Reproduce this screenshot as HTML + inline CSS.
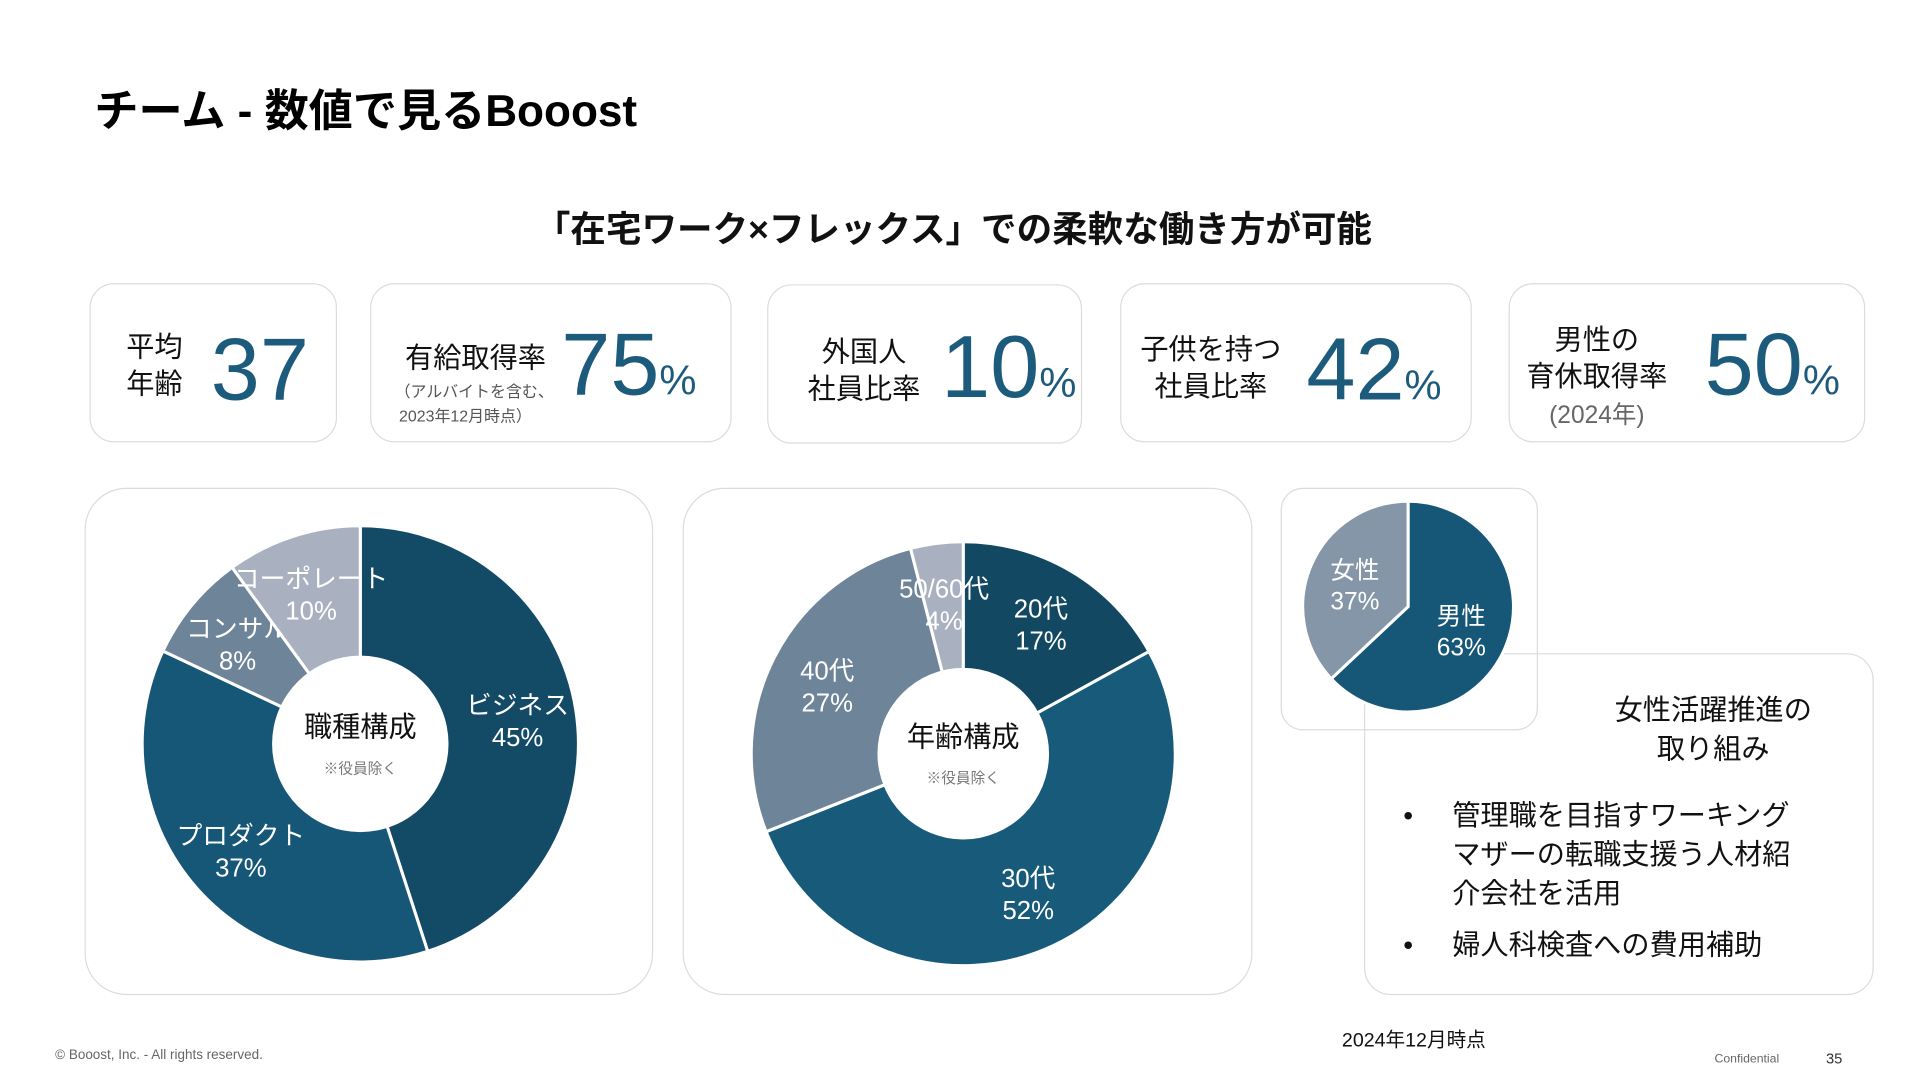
<!DOCTYPE html>
<html><head><meta charset="utf-8">
<style>
html,body{margin:0;padding:0;background:#fff;}
body{width:1920px;height:1080px;overflow:hidden;font-family:"Liberation Sans","Noto Sans CJK JP",sans-serif;}
#stage{position:absolute;left:0;top:0;width:1560px;height:878px;transform:scale(1.2255);transform-origin:0 0;}
.abs{position:absolute;}
.card{position:absolute;border:1.5px solid #dcdcdc;border-radius:20px;background:#fff;box-sizing:border-box;}
.lbl{position:absolute;font-size:23px;line-height:30px;color:#111;text-align:center;}
.num{position:absolute;color:#1d5b7c;font-size:72px;line-height:72px;font-family:"Liberation Sans",sans-serif;}
.num small{font-size:34px;}
</style></head><body>
<div id="stage">
<div class="abs" style="left:77px;top:62px;font-size:36px;font-weight:bold;color:#000;">チーム - 数値で見るBooost</div>
<div class="abs" style="left:0;width:1556px;top:164px;text-align:center;font-size:29px;font-weight:bold;color:#111;">「在宅ワーク×フレックス」での柔軟な働き方が可能</div>

<div class="card" style="left:73px;top:231px;width:202px;height:130px;"></div>
<div class="lbl" style="left:96px;top:268px;width:60px;">平均<br>年齢</div>
<div class="num" style="left:172px;top:266px;">37</div>

<div class="card" style="left:302px;top:231px;width:295px;height:130px;"></div>
<div class="lbl" style="left:320px;top:277px;width:136px;">有給取得率</div>
<div class="abs" style="left:322px;top:310px;font-size:13px;line-height:20px;color:#555;">（アルバイトを含む、<br>&nbsp;2023年12月時点）</div>
<div class="num" style="left:458px;top:262px;">75<small>%</small></div>

<div class="card" style="left:626px;top:232px;width:257px;height:130px;"></div>
<div class="lbl" style="left:645px;top:272px;width:120px;">外国人<br>社員比率</div>
<div class="num" style="left:768px;top:264px;">10<small>%</small></div>

<div class="card" style="left:914px;top:231px;width:287px;height:130px;"></div>
<div class="lbl" style="left:918px;top:270px;width:140px;">子供を持つ<br>社員比率</div>
<div class="num" style="left:1066px;top:266px;">42<small>%</small></div>

<div class="card" style="left:1231px;top:231px;width:291px;height:130px;"></div>
<div class="lbl" style="left:1233px;top:262px;width:140px;">男性の<br>育休取得率<br><span style="color:#666;font-size:20px;">(2024年)</span></div>
<div class="num" style="left:1391px;top:262px;">50<small>%</small></div>

<div class="card" style="left:69px;top:398px;width:464px;height:414px;border-radius:34px;"></div>
<div class="card" style="left:557px;top:398px;width:465px;height:414px;border-radius:34px;"></div>
<div class="card" style="left:1045px;top:398px;width:210px;height:198px;border-radius:18px;"></div>
<div class="card" style="left:1113px;top:533px;width:416px;height:279px;border-radius:22px;background:transparent;"></div>

<svg id="charts" class="abs" style="left:0;top:0" width="1560" height="878"></svg>

<div class="abs" style="left:1290px;width:216px;top:563px;text-align:center;font-size:23px;line-height:32px;color:#111;">女性活躍推進の<br>取り組み</div>
<div class="abs" style="left:1145px;top:649px;font-size:23px;line-height:32px;color:#111;">
<div style="position:relative;padding-left:40px;"><span style="position:absolute;left:0;">•</span>管理職を目指すワーキング<br>マザーの転職支援う人材紹<br>介会社を活用</div>
<div style="position:relative;padding-left:40px;margin-top:10px;"><span style="position:absolute;left:0;">•</span>婦人科検査への費用補助</div>
</div>

<div class="abs" style="left:1095px;top:835px;font-size:16px;color:#111;">2024年12月時点</div>
<div class="abs" style="left:45px;top:855px;font-size:11px;color:#666;">© Booost, Inc. - All rights reserved.</div>
<div class="abs" style="left:1399px;top:859px;font-size:10px;color:#666;">Confidential</div>
<div class="abs" style="left:1490px;top:857px;font-size:12px;color:#333;">35</div>
</div>
<script>
const jobCats=["ビジネス","プロダクト","コンサル","コーポレート"];
const jobVals=[45,37,8,10];
const jobColors=["#134a66","#165676","#6e8499","#a9b1c1"];
const ageCats=["20代","30代","40代","50/60代"];
const ageVals=[17,52,27,4];
const ageColors=["#124862","#175a7a","#6e8499","#a9b1c1"];
const genCats=["男性","女性"];
const genVals=[63,37];
const genColors=["#165676","#8596a8"];
const NS="http://www.w3.org/2000/svg";
const svg=document.getElementById('charts');
function pt(cx,cy,r,a){return [cx+r*Math.sin(a),cy-r*Math.cos(a)];}
function drawPie(name,cats,vals,colors,cx,cy,R,ri,lr,fs){
  const tot=vals.reduce((a,b)=>a+b,0);let a0=0;
  vals.forEach((v,i)=>{
    const a1=a0+v/tot*2*Math.PI;
    const p0=pt(cx,cy,R,a0),p1=pt(cx,cy,R,a1);const lg=(a1-a0)>Math.PI?1:0;
    const p=document.createElementNS(NS,'path');
    p.setAttribute('d',`M${cx},${cy}L${p0[0]},${p0[1]}A${R},${R} 0 ${lg} 1 ${p1[0]},${p1[1]}Z`);
    p.setAttribute('fill',colors[i]);p.setAttribute('stroke','#fff');p.setAttribute('stroke-width','2.5');
    
    
    svg.appendChild(p);
    const m=(a0+a1)/2;const lp=pt(cx,cy,R*lr,m);
    const t=document.createElementNS(NS,'text');
    t.setAttribute('x',lp[0]);t.setAttribute('y',lp[1]-4);t.setAttribute('text-anchor','middle');
    t.setAttribute('fill','#fff');t.setAttribute('font-size',fs);
    t.setAttribute('font-family','"Liberation Sans","Noto Sans CJK JP",sans-serif');
    
    
    const s1=document.createElementNS(NS,'tspan');s1.setAttribute('x',lp[0]);s1.textContent=cats[i];
    const s2=document.createElementNS(NS,'tspan');s2.setAttribute('x',lp[0]);s2.setAttribute('dy',fs*1.25);s2.textContent=v+'%';
    t.appendChild(s1);t.appendChild(s2);svg.appendChild(t);
    a0=a1;
  });
  if(ri>0){const c=document.createElementNS(NS,'circle');c.setAttribute('cx',cx);c.setAttribute('cy',cy);c.setAttribute('r',ri);c.setAttribute('fill','#fff');
    
    
    svg.appendChild(c);}
}
function centerText(name,cx,cy,title){
  const t=document.createElementNS(NS,'text');t.setAttribute('x',cx);t.setAttribute('y',cy-6);t.setAttribute('text-anchor','middle');
  t.setAttribute('font-size','23');t.setAttribute('fill','#111');t.setAttribute('font-family','"Liberation Sans","Noto Sans CJK JP",sans-serif');t.textContent=title;
  
  
  svg.appendChild(t);
  const n=document.createElementNS(NS,'text');n.setAttribute('x',cx);n.setAttribute('y',cy+24);n.setAttribute('text-anchor','middle');
  n.setAttribute('font-size','12');n.setAttribute('fill','#777');n.setAttribute('font-family','"Liberation Sans","Noto Sans CJK JP",sans-serif');n.textContent='※役員除く';
  
  
  svg.appendChild(n);
}
drawPie('job-donut',jobCats,jobVals,jobColors,294,607,178,72,0.73,21);
centerText('job-donut',294,607,'職種構成');
drawPie('age-donut',ageCats,ageVals,ageColors,786,615,173,70,0.72,21);
centerText('age-donut',786,615,'年齢構成');
drawPie('gender-pie',genCats,genVals,genColors,1149,495,86,0,0.55,20);
</script>
</body></html>
